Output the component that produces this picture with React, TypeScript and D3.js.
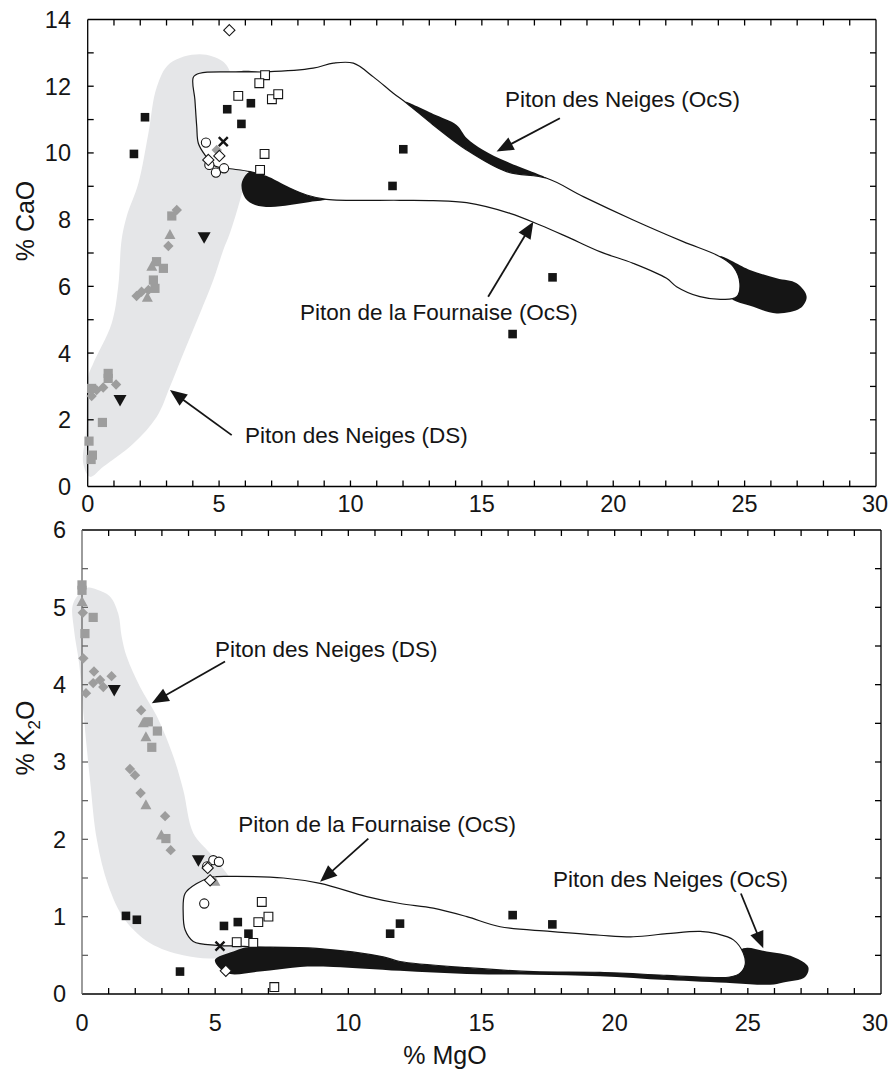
import React, { useRef, useEffect } from 'react';
import * as d3 from 'd3';

type Pt = [number, number];

// ---------- top panel: % CaO vs % MgO ----------
const caoDsField: Pt[] = [
  [4.27, 12.96], [5.16, 12.73], [5.53, 12.19], [5.87, 10.99], [6.05, 9.39], [5.8, 8.59],
  [5.41, 7.59], [5.16, 7.09], [4.78, 6.19], [4.27, 5.19], [3.64, 3.99], [3.13, 2.99],
  [2.63, 2.09], [1.74, 1.29], [0.59, 0.59], [0.09, 0.29], [-0.17, 0.7], [-0.06, 1.69],
  [0.02, 3.29], [0.21, 3.69], [0.91, 4.89], [1.16, 5.99], [1.29, 7.39], [1.48, 8.09],
  [1.93, 9.09], [2.31, 10.59], [2.63, 11.98], [3.13, 12.69],
];

const caoFournaiseField: Pt[] = [
  [4.02, 12.27], [4.27, 12.39], [5.54, 12.43], [6.81, 12.43], [8.58, 12.54], [9.35, 12.69],
  [10.11, 12.69], [10.87, 12.28], [11.63, 11.79], [12.14, 11.49], [13.15, 10.84], [14.42, 10.09],
  [15.94, 9.44], [17.47, 9.24], [18.86, 8.69], [20.76, 7.99], [22.66, 7.34], [24.06, 6.89],
  [24.57, 6.59], [24.82, 6.09], [24.7, 5.69], [24.19, 5.61], [23.3, 5.69], [22.41, 5.99],
  [22.03, 6.24], [20.76, 6.69], [19.49, 7.04], [18.23, 7.49], [17.21, 7.84], [16.07, 8.19],
  [14.42, 8.51], [13.15, 8.57], [11.88, 8.58], [9.09, 8.61], [8.33, 8.74], [7.57, 8.99],
  [6.81, 9.29], [6.18, 9.44], [5.29, 9.54], [4.84, 9.61], [4.46, 9.94], [4.21, 10.29],
  [4.15, 10.79], [4.08, 11.59],
];

const caoNeigesBlobs: Pt[][] = [
  [[5.48, 12.37], [5.92, 12.46], [6.49, 12.43], [6.63, 12.4], [6.18, 12.28], [5.72, 12.27]],
  [[12.1, 11.53], [13.15, 11.17], [14.04, 10.84], [14.42, 10.45], [15.05, 10.09], [15.94, 9.74],
   [17.47, 9.24], [15.94, 9.44], [14.42, 10.09], [13.15, 10.84], [12.14, 11.49]],
  [[5.86, 9.09], [6.18, 9.44], [6.81, 9.29], [7.57, 8.99], [8.33, 8.74], [9.09, 8.61],
   [8.46, 8.53], [7.7, 8.44], [6.94, 8.38], [6.37, 8.44], [5.99, 8.65]],
  [[24.06, 6.89], [25.2, 6.49], [26.22, 6.24], [26.98, 6.09], [27.36, 5.69], [27.11, 5.34],
   [26.22, 5.19], [25.33, 5.39], [24.44, 5.69], [24.6, 6.2]],
];

const caoGreySquares: Pt[] = [
  [3.2, 8.11], [2.62, 6.74], [2.88, 6.54], [2.5, 6.19], [2.56, 5.94], [0.78, 3.39], [0.78, 3.24],
  [0.15, 2.94], [0.56, 1.92], [0.05, 1.36], [0.18, 0.94], [0.13, 0.81],
];
const caoGreyDiamonds: Pt[] = [
  [3.39, 8.29], [3.07, 7.21], [2.31, 5.89], [2.05, 5.84], [1.86, 5.71], [1.08, 3.06],
  [0.59, 2.97], [0.34, 2.89], [0.15, 2.71], [4.91, 10.09],
];
const caoGreyTriangles: Pt[] = [[3.13, 7.54], [2.44, 6.59], [2.27, 5.66]];
const caoBlackSquares: Pt[] = [
  [2.18, 11.07], [1.76, 9.97], [5.31, 11.31], [6.21, 11.49], [5.85, 10.87], [12.01, 10.11],
  [11.6, 9.01], [17.69, 6.27], [16.17, 4.57],
];
const caoOpenSquares: Pt[] = [
  [6.75, 12.33], [6.53, 12.09], [5.73, 11.71], [7.01, 11.61], [7.25, 11.76], [6.73, 9.97], [6.56, 9.49],
];
const caoOpenCircles: Pt[] = [[4.5, 10.31], [4.63, 9.64], [4.88, 9.41], [5.19, 9.54]];
const caoOpenDiamonds: Pt[] = [[5.39, 13.68], [4.59, 9.79], [5.01, 9.91]];
const caoCrosses: Pt[] = [[5.16, 10.34]];
const caoDownTriangles: Pt[] = [[4.43, 7.47], [1.23, 2.59]];

// label, text anchor point, arrow start, arrow tip
const caoNoteLabels = ['Piton des Neiges (OcS)', 'Piton de la Fournaise (OcS)', 'Piton des Neiges (DS)'];
const caoNoteText: Pt[] = [[15.88, 11.38], [8.08, 4.99], [5.99, 1.29]];
const caoNoteFrom: Pt[] = [[17.97, 11.04], [15.24, 5.69], [5.48, 1.54]];
const caoNoteTo: Pt[] = [[15.56, 10.04], [16.96, 7.94], [3.13, 2.89]];

// ---------- bottom panel: % K2O vs % MgO ----------
const k2oDsField: Pt[] = [
  [0.18, 5.25], [0.55, 5.23], [1.05, 5.14], [1.36, 4.92], [1.49, 4.62], [1.68, 4.36], [2.18, 3.97],
  [2.81, 3.59], [3.43, 3.07], [3.8, 2.64], [4.18, 2.08], [4.81, 1.82], [5.43, 1.56], [5.75, 1.37],
  [6.12, 0.96], [6.23, 0.63], [5.81, 0.53], [4.93, 0.46], [3.8, 0.5], [2.55, 0.66], [1.61, 0.96],
  [0.98, 1.41], [0.56, 1.99], [0.3, 2.77], [0.08, 3.54], [-0.11, 4.28], [-0.3, 4.71], [-0.33, 5.05],
];

const k2oFournaiseField: Pt[] = [
  [4.31, 1.43], [4.87, 1.51], [5.68, 1.52], [7.56, 1.5], [8.94, 1.43], [10.69, 1.26], [11.94, 1.17],
  [13.19, 1.11], [14.45, 1.0], [15.7, 0.87], [17.57, 0.81], [19.45, 0.76], [20.7, 0.74], [21.96, 0.78],
  [23.21, 0.81], [23.83, 0.78], [24.46, 0.7], [24.83, 0.53], [24.9, 0.38], [24.71, 0.27], [24.33, 0.22],
  [23.21, 0.22], [21.96, 0.24], [19.45, 0.28], [16.95, 0.29], [14.45, 0.34], [11.94, 0.42], [11.31, 0.48],
  [8.81, 0.59], [6.31, 0.61], [5.93, 0.62], [5.06, 0.63], [4.18, 0.68], [3.87, 0.83], [3.8, 1.04],
  [3.87, 1.3],
];

const k2oNeigesBlobs: Pt[][] = [
  [[4.99, 0.44], [5.68, 0.55], [6.31, 0.61], [8.81, 0.59], [11.31, 0.48], [11.94, 0.42], [14.45, 0.34],
   [16.95, 0.29], [19.45, 0.28], [21.96, 0.24], [23.21, 0.22], [23.96, 0.25], [24.52, 0.44], [24.83, 0.59],
   [25.71, 0.55], [26.71, 0.48], [27.27, 0.35], [27.15, 0.22], [26.33, 0.15], [25.84, 0.12], [24.46, 0.14],
   [21.96, 0.18], [19.45, 0.23], [16.95, 0.25], [14.45, 0.26], [11.94, 0.3], [9.44, 0.35], [8.19, 0.35],
   [6.68, 0.29], [5.43, 0.27]],
];

const k2oGreySquares: Pt[] = [
  [0.0, 5.29], [0.0, 5.22], [0.42, 4.87], [0.11, 4.66], [2.49, 3.52], [2.83, 3.4], [2.62, 3.19], [3.15, 2.01],
];
const k2oGreyDiamonds: Pt[] = [
  [0.03, 4.93], [0.05, 4.34], [0.45, 4.17], [1.11, 4.11], [0.68, 4.06], [0.8, 3.97], [0.42, 4.02],
  [0.15, 3.89], [2.22, 3.67], [1.8, 2.91], [1.99, 2.83], [2.2, 2.6], [3.12, 2.3], [3.33, 1.86],
];
const k2oGreyTriangles: Pt[] = [[0.0, 5.07], [2.3, 3.5], [2.4, 3.32], [2.4, 2.44], [2.98, 2.05], [4.99, 1.45]];
const k2oBlackSquares: Pt[] = [
  [1.65, 1.01], [2.06, 0.96], [5.33, 0.88], [5.85, 0.93], [6.25, 0.78], [11.57, 0.78], [11.94, 0.91],
  [3.68, 0.29], [16.17, 1.02], [17.66, 0.9],
];
const k2oOpenSquares: Pt[] = [[6.75, 1.19], [7.0, 1.0], [6.62, 0.93], [5.81, 0.67], [6.43, 0.66], [7.22, 0.09]];
const k2oOpenCircles: Pt[] = [[4.93, 1.73], [5.14, 1.71], [4.7, 1.65], [4.59, 1.17]];
const k2oOpenDiamonds: Pt[] = [[4.72, 1.63], [4.81, 1.47], [5.4, 0.3]];
const k2oCrosses: Pt[] = [[5.18, 0.62]];
const k2oDownTriangles: Pt[] = [[1.21, 3.93], [4.37, 1.73]];

const k2oNoteLabels = ['Piton des Neiges (DS)', 'Piton de la Fournaise (OcS)', 'Piton des Neiges (OcS)'];
const k2oNoteText: Pt[] = [[4.99, 4.36], [5.87, 2.1], [17.68, 1.38]];
const k2oNoteFrom: Pt[] = [[5.37, 4.3], [10.75, 2.01], [24.74, 1.3]];
const k2oNoteTo: Pt[] = [[2.62, 3.76], [8.94, 1.45], [25.58, 0.59]];

const W = 891;
const H = 1075;
const FONT = "'Liberation Sans', Arial, Helvetica, sans-serif";
const FIELD_GREY = '#e5e6e8';
const POINT_GREY = '#9d9d9d';
const INK = '#151515';

// marker outlines, centred on 0,0
const square = (h: number) => `M${-h},${-h}H${h}V${h}H${-h}Z`;
const diamond = (r: number) => `M0,${-r}L${r},0L0,${r}L${-r},0Z`;
const circle = (r: number) => `M${r},0A${r},${r} 0 1 1 ${-r},0A${r},${r} 0 1 1 ${r},0Z`;
const triUp = 'M0,-6L5.5,4L-5.5,4Z';
const triDown = 'M-6.5,-5L6.5,-5L0,6.5Z';
const cross = 'M-4.5,-4.5L4.5,4.5M4.5,-4.5L-4.5,4.5';

const Chart = () => {
  const svgRef = useRef<SVGSVGElement>(null);

  useEffect(() => {
    const svg = d3.select(svgRef.current);
    svg.selectAll('*').remove();
    svg.attr('width', W).attr('height', H).style('background', '#fff');

    const panels = [
      {
        x: d3.scaleLinear().domain([0, 30]).range([87.7, 876]),
        y: d3.scaleLinear().domain([0, 14]).range([486.5, 19.5]),
        yMax: 14, yStep: 1, yLabelStep: 2, xLabelY: 512, yLabelX: 71, leftColor: '#000',
        ds: caoDsField, fournaise: caoFournaiseField, neiges: caoNeigesBlobs,
        greySq: caoGreySquares, greyDi: caoGreyDiamonds, greyTri: caoGreyTriangles,
        blackSq: caoBlackSquares, openSq: caoOpenSquares, openCi: caoOpenCircles,
        openDi: caoOpenDiamonds, crosses: caoCrosses, downTri: caoDownTriangles,
        noteLabels: caoNoteLabels, noteText: caoNoteText, noteFrom: caoNoteFrom, noteTo: caoNoteTo,
      },
      {
        x: d3.scaleLinear().domain([0, 30]).range([82, 881]),
        y: d3.scaleLinear().domain([0, 6]).range([994, 530]),
        yMax: 6, yStep: 0.5, yLabelStep: 1, xLabelY: 1031, yLabelX: 66, leftColor: '#666',
        ds: k2oDsField, fournaise: k2oFournaiseField, neiges: k2oNeigesBlobs,
        greySq: k2oGreySquares, greyDi: k2oGreyDiamonds, greyTri: k2oGreyTriangles,
        blackSq: k2oBlackSquares, openSq: k2oOpenSquares, openCi: k2oOpenCircles,
        openDi: k2oOpenDiamonds, crosses: k2oCrosses, downTri: k2oDownTriangles,
        noteLabels: k2oNoteLabels, noteText: k2oNoteText, noteFrom: k2oNoteFrom, noteTo: k2oNoteTo,
      },
    ];

    panels.forEach(p => {
      const { x, y } = p;
      const g = svg.append('g');
      const shape = d3.line<Pt>()
        .x(d => x(d[0]))
        .y(d => y(d[1]))
        .curve(d3.curveCatmullRomClosed.alpha(0.5));

      // fields: DS grey envelope, black PdN (OcS) bands, white PdF (OcS) outline
      g.append('path').attr('d', shape(p.ds)).attr('fill', FIELD_GREY);
      p.neiges.forEach(b => g.append('path').attr('d', shape(b)).attr('fill', INK));
      g.append('path').attr('d', shape(p.fournaise))
        .attr('fill', '#fff').attr('stroke', INK).attr('stroke-width', 1.2);

      // frame + inward ticks
      const [x0, x1] = x.range();
      const [y0, y1] = y.range();
      const frame = g.append('g').attr('stroke', '#000').attr('stroke-width', 1.3);
      frame.append('line').attr('x1', x0).attr('x2', x1).attr('y1', y0).attr('y2', y0);
      frame.append('line').attr('x1', x0).attr('x2', x1).attr('y1', y1).attr('y2', y1);
      frame.append('line').attr('x1', x1).attr('x2', x1).attr('y1', y0).attr('y2', y1);
      frame.append('line').attr('x1', x0).attr('x2', x0).attr('y1', y0).attr('y2', y1)
        .attr('stroke', p.leftColor);

      d3.range(1, 30).forEach(v => {
        frame.append('line').attr('x1', x(v)).attr('x2', x(v)).attr('y1', y0).attr('y2', y0 - 6);
        frame.append('line').attr('x1', x(v)).attr('x2', x(v)).attr('y1', y1).attr('y2', y1 + 6);
      });
      d3.range(p.yStep, p.yMax, p.yStep).forEach(v => {
        frame.append('line').attr('x1', x0).attr('x2', x0 + 6).attr('y1', y(v)).attr('y2', y(v))
          .attr('stroke', p.leftColor);
        frame.append('line').attr('x1', x1).attr('x2', x1 - 6).attr('y1', y(v)).attr('y2', y(v));
      });

      const labels = g.append('g').attr('font-family', FONT).attr('font-size', 23.5).attr('fill', INK);
      d3.range(0, 31, 5).forEach(v => {
        // keep the last label inside the page, as in the original figure
        labels.append('text').attr('x', Math.min(x(v), W - 16)).attr('y', p.xLabelY)
          .attr('text-anchor', 'middle').text(v);
      });
      d3.range(0, p.yMax + 0.01, p.yLabelStep).forEach(v => {
        labels.append('text').attr('x', p.yLabelX).attr('y', y(v)).attr('dy', '0.36em')
          .attr('text-anchor', 'end').text(v);
      });

      // data points
      const marks = (pts: Pt[], d: string, fill: string, stroke: string, sw: number) => {
        g.append('g').selectAll('path').data(pts).enter().append('path')
          .attr('transform', pt => `translate(${x(pt[0])},${y(pt[1])})`)
          .attr('d', d).attr('fill', fill).attr('stroke', stroke).attr('stroke-width', sw);
      };
      marks(p.greyDi, diamond(5.2), POINT_GREY, 'none', 0);
      marks(p.greySq, square(4.6), POINT_GREY, 'none', 0);
      marks(p.greyTri, triUp, POINT_GREY, 'none', 0);
      marks(p.blackSq, square(4.3), INK, 'none', 0);
      marks(p.openSq, square(4.4), '#fff', INK, 1.1);
      marks(p.openCi, circle(4.6), '#fff', INK, 1.1);
      marks(p.openDi, diamond(5.6), '#fff', INK, 1.1);
      marks(p.crosses, cross, 'none', INK, 2.4);
      marks(p.downTri, triDown, INK, 'none', 0);

      // annotations with arrows
      p.noteLabels.forEach((label, i) => {
        g.append('text').attr('x', x(p.noteText[i][0])).attr('y', y(p.noteText[i][1]))
          .attr('font-family', FONT).attr('font-size', 22.5).attr('fill', INK).text(label);
        const fx = x(p.noteFrom[i][0]), fy = y(p.noteFrom[i][1]);
        const tx = x(p.noteTo[i][0]), ty = y(p.noteTo[i][1]);
        const len = Math.hypot(tx - fx, ty - fy);
        const ux = (tx - fx) / len, uy = (ty - fy) / len;
        const hl = 17, hw = 7;
        const bx = tx - ux * hl, by = ty - uy * hl;
        g.append('line').attr('x1', fx).attr('y1', fy).attr('x2', bx + ux * 2).attr('y2', by + uy * 2)
          .attr('stroke', INK).attr('stroke-width', 1.8);
        g.append('path')
          .attr('d', `M${tx},${ty}L${bx - uy * hw},${by + ux * hw}L${bx + uy * hw},${by - ux * hw}Z`)
          .attr('fill', INK);
      });
    });

    // axis titles
    const titles = svg.append('g').attr('font-family', FONT).attr('font-size', 25).attr('fill', INK);
    titles.append('text').attr('transform', 'translate(34,221) rotate(-90)')
      .attr('text-anchor', 'middle').text('% CaO');
    const k2o = titles.append('text').attr('transform', 'translate(34,738) rotate(-90)')
      .attr('text-anchor', 'middle');
    k2o.append('tspan').text('% K');
    k2o.append('tspan').attr('font-size', 17).attr('dy', 6).text('2');
    k2o.append('tspan').attr('dy', -6).text('O');
    titles.append('text').attr('x', 445).attr('y', 1064).attr('text-anchor', 'middle').text('% MgO');
  }, []);

  return <svg ref={svgRef} style={{ position: 'absolute', left: 0, top: 0 }}></svg>;
};

export default function App() {
  return <Chart />;
}
